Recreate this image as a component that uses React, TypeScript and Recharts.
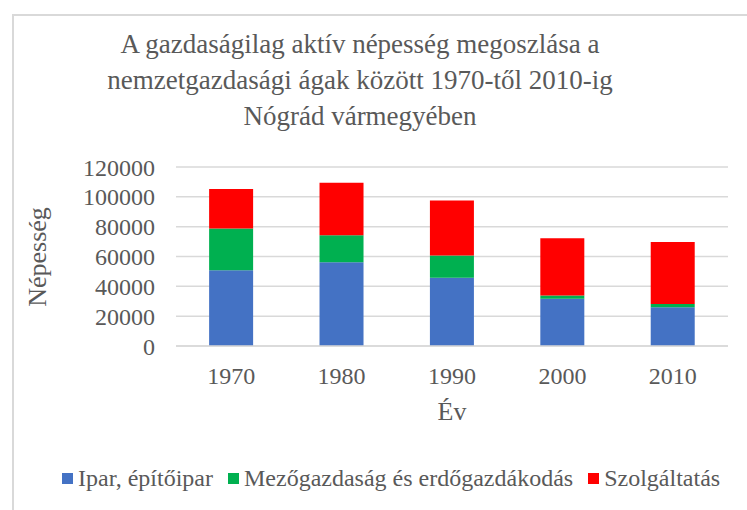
import { BarChart, Bar, XAxis, YAxis, CartesianGrid } from 'recharts';

const years = ['1970', '1980', '1990', '2000', '2010'];
const ipar = [50800, 56200, 45700, 31600, 26000];
const mezogazdasag = [28000, 18100, 15000, 2200, 2200];
const szolgaltatas = [26400, 35100, 36900, 38500, 41600];
const yTicks = [0, 20000, 40000, 60000, 80000, 100000, 120000];

const seriesInfo = [
  { key: 'ipar', name: 'Ipar, építőipar', color: '#4472C4' },
  { key: 'mezo', name: 'Mezőgazdaság és erdőgazdákodás', color: '#00B050' },
  { key: 'szolg', name: 'Szolgáltatás', color: '#FF0000' },
];

const data = years.map((y, i) => ({
  year: y,
  ipar: ipar[i],
  mezo: mezogazdasag[i],
  szolg: szolgaltatas[i],
}));

const FONT = '"Liberation Serif", "DejaVu Serif", serif';
const TEXT = '#595959';
const GRID = '#d9d9d9';

export default function App() {
  return (
    <div style={{ position: 'absolute', left: 0, top: 0, width: 747, height: 510, overflow: 'hidden', background: '#fff', fontFamily: FONT }}>
      {/* chart frame, only top/left edges are visible in the picture */}
      <div style={{ position: 'absolute', left: 12, top: 14, width: 740, height: 500, borderTop: `2px solid ${GRID}`, borderLeft: `2px solid ${GRID}` }} />

      <div style={{ position: 'absolute', left: 0, top: 26, width: 720, textAlign: 'center', fontSize: 27, lineHeight: '36px', color: TEXT }}>
        A gazdaságilag aktív népesség megoszlása a<br />
        nemzetgazdasági ágak között 1970-től 2010-ig<br />
        Nógrád vármegyében
      </div>

      <div style={{ position: 'absolute', left: 0, top: 0 }}>
        <BarChart width={747} height={510} data={data} margin={{ top: 167, right: 19, bottom: 134, left: 0 }} barCategoryGap="30%">
          <CartesianGrid vertical={false} stroke={GRID} strokeWidth={1.5} />
          <XAxis
            dataKey="year"
            height={30}
            axisLine={{ stroke: GRID, strokeWidth: 1.5 }}
            tickLine={false}
            tickMargin={15}
            interval={0}
            tick={{ fontSize: 24, fill: TEXT, fontFamily: FONT }}
          />
          <YAxis
            width={176}
            domain={[0, 120000]}
            ticks={yTicks}
            interval={0}
            axisLine={false}
            tickLine={false}
            tickMargin={15}
            tick={{ fontSize: 24, fill: TEXT, fontFamily: FONT }}
          />
          {seriesInfo.map((s) => (
            <Bar key={s.key} dataKey={s.key} name={s.name} stackId="a" fill={s.color} isAnimationActive={false} />
          ))}
        </BarChart>
      </div>

      <div style={{ position: 'absolute', left: 38 - 100, top: 257 - 13, width: 200, height: 26, lineHeight: '26px', textAlign: 'center', fontSize: 26, color: TEXT, transform: 'rotate(-90deg)' }}>
        Népesség
      </div>
      <div style={{ position: 'absolute', left: 352, top: 399, width: 200, lineHeight: '26px', textAlign: 'center', fontSize: 26, color: TEXT }}>
        Év
      </div>

      <div style={{ position: 'absolute', left: 62, top: 465, display: 'flex', alignItems: 'center', fontSize: 24, color: TEXT, whiteSpace: 'nowrap' }}>
        {seriesInfo.map((s, i) => (
          <div key={s.key} style={{ display: 'flex', alignItems: 'center', marginRight: i < seriesInfo.length - 1 ? 15 : 0 }}>
            <span style={{ display: 'inline-block', width: 11, height: 11, background: s.color, marginRight: 5 }} />
            <span>{s.name}</span>
          </div>
        ))}
      </div>
    </div>
  );
}
